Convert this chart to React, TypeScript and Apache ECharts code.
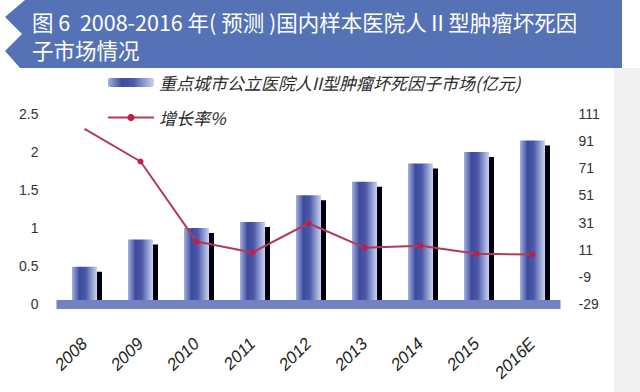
import React, { useEffect, useRef } from "react";
import * as echarts from "echarts";

const categories = ["2008", "2009", "2010", "2011", "2012", "2013", "2014", "2015", "2016E"];
const marketValues = [0.49, 0.85, 1.0, 1.08, 1.43, 1.61, 1.85, 2.0, 2.15];
const growthRates = [100, 76, 17, 9, 30.5, 12.5, 14, 8, 7.5];
const leftTicks = { min: 0, max: 2.5, interval: 0.5 };
const rightTicks = { min: -29, max: 111, interval: 20 };
const barName = "重点城市公立医院人II型肿瘤坏死因子市场(亿元)";
const lineName = "增长率%";
const titleLines = ["图 6  2008-2016 年( 预测 )国内样本医院人Ⅱ型肿瘤坏死因", "子市场情况"];

export default function App() {
  const ref = useRef<HTMLDivElement>(null);
  useEffect(() => {
    const chart = echarts.init(ref.current!, null, { renderer: "svg" });
    const barGrad = new echarts.graphic.LinearGradient(0, 0, 1, 0, [
      { offset: 0, color: "#a3b1df" },
      { offset: 0.3, color: "#3e4b9c" },
      { offset: 0.55, color: "#4b5aa9" },
      { offset: 1, color: "#c9d3f1" },
    ]);
    chart.setOption({
      animation: false,
      backgroundColor: "#ffffff",
      textStyle: { fontFamily: "Liberation Sans" },
      grid: { left: 56.5, right: 79.5, top: 114, bottom: 88, containLabel: false },
      legend: {
        orient: "vertical",
        left: 107,
        top: 74,
        padding: 0,
        itemWidth: 46,
        itemHeight: 9,
        itemGap: 18,
        textStyle: { fontSize: 17, fontStyle: "italic", color: "#2a2a2a", fontFamily: "Noto Sans CJK SC" },
        data: [barName, lineName],
      },
      xAxis: {
        type: "category",
        data: categories,
        z: 3,
        axisLine: { show: true, lineStyle: { color: "#7482c3", width: 9, cap: "butt" } },
        axisTick: { show: false },
        axisLabel: {
          rotate: 45,
          margin: 37,
          fontSize: 17,
          fontStyle: "italic",
          color: "#222",
          fontFamily: "Liberation Sans",
        },
      },
      yAxis: [
        {
          type: "value",
          ...leftTicks,
          axisLine: { show: false },
          axisTick: { show: false },
          splitLine: { show: false },
          axisLabel: { margin: 18, fontSize: 14, color: "#333" },
        },
        {
          type: "value",
          ...rightTicks,
          position: "right",
          axisLine: { show: false },
          axisTick: { show: false },
          splitLine: { show: false },
          axisLabel: { margin: 18, fontSize: 14, color: "#333", align: "left" },
        },
      ],
      series: [
        {
          name: barName,
          type: "bar",
          data: marketValues,
          barWidth: 25,
          itemStyle: {
            color: barGrad,
            shadowColor: "#05050f",
            shadowOffsetX: 5,
            shadowOffsetY: 5,
            shadowBlur: 0,
          },
        },
        {
          name: lineName,
          type: "line",
          yAxisIndex: 1,
          z: 5,
          data: growthRates.map((v, i) => (i === 0 ? { value: v, symbol: "none" } : v)),
          symbol: "circle",
          symbolSize: 6,
          lineStyle: { color: "#b23a55", width: 2 },
          itemStyle: { color: "#c21d48" },
        },
      ],
      graphic: [
        {
          type: "rect",
          shape: { x: 614, y: 68, width: 26, height: 324 },
          style: { fill: "#f1f1f1" },
        },
        {
          type: "polygon",
          shape: {
            points: [
              [25, 0], [5, 17], [22, 34], [5, 51], [20, 68], [622, 68], [622, 0],
            ],
          },
          style: { fill: "#5672b6" },
        },
        {
          type: "text",
          x: 32,
          y: 21,
          style: {
            text: titleLines[0],
            fill: "#ffffff",
            fontSize: 21.5,
            fontFamily: "Noto Sans CJK SC",
            verticalAlign: "middle",
          },
        },
        {
          type: "text",
          x: 32,
          y: 49,
          style: {
            text: titleLines[1],
            fill: "#ffffff",
            fontSize: 21.5,
            fontFamily: "Noto Sans CJK SC",
            verticalAlign: "middle",
          },
        },
      ],
    });
    return () => chart.dispose();
  }, []);
  return <div ref={ref} style={{ width: 640, height: 392, position: "absolute", left: 0, top: 0 }} />;
}
